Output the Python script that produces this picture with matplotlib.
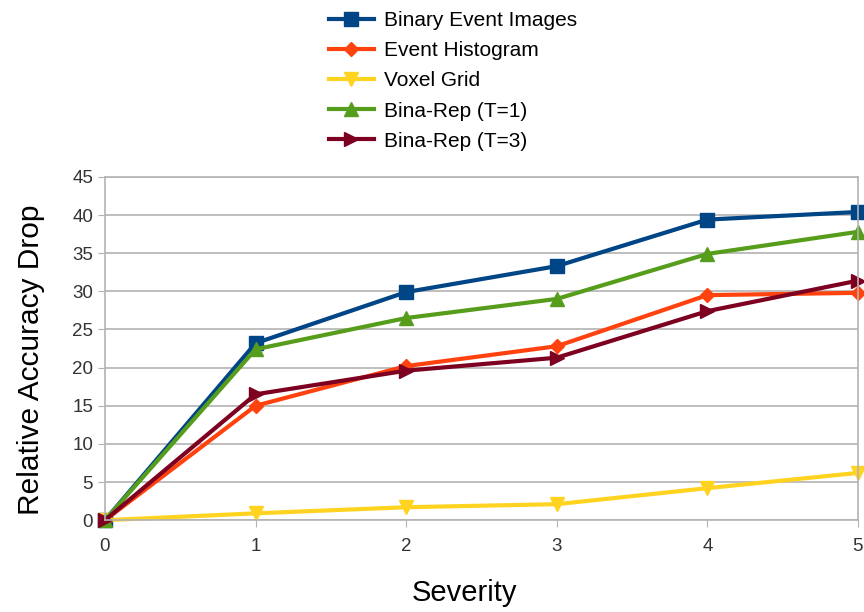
import numpy as np
import matplotlib.pyplot as plt

plt.rcParams['font.family'] = ['Liberation Sans', 'DejaVu Sans']

# Data
severity = [0, 1, 2, 3, 4, 5]
binary_event_images = [0, 23.2, 29.9, 33.3, 39.4, 40.4]
event_histogram = [0, 15.0, 20.2, 22.8, 29.5, 29.8]
voxel_grid = [0, 0.9, 1.7, 2.1, 4.2, 6.2]
bina_rep_t1 = [0, 22.4, 26.5, 29.0, 34.9, 37.8]
bina_rep_t3 = [0, 16.5, 19.6, 21.3, 27.4, 31.4]

fig = plt.figure(figsize=(8.64, 6.12), dpi=100)
ax = fig.add_axes([0.1215, 0.150, 0.8715, 0.561])

ax.plot(severity, binary_event_images, color='#004586', marker='s', markersize=10,
        linewidth=3, label='Binary Event Images')
ax.plot(severity, event_histogram, color='#ff420e', marker='D', markersize=7,
        linewidth=3, label='Event Histogram')
ax.plot(severity, voxel_grid, color='#ffd320', marker='v', markersize=10,
        linewidth=3, label='Voxel Grid')
ax.plot(severity, bina_rep_t1, color='#579d1c', marker='^', markersize=10,
        linewidth=3, label='Bina-Rep (T=1)')
ax.plot(severity, bina_rep_t3, color='#7e0021', marker='>', markersize=10,
        linewidth=3, label='Bina-Rep (T=3)')

ax.set_xlim(0, 5)
ax.set_ylim(0, 45)
ax.set_xticks(severity)
ax.set_yticks(np.arange(0, 46, 5))
ax.grid(axis='y', color='#b3b3b3', linewidth=1.2)
ax.set_axisbelow(True)
for s in ax.spines.values():
    s.set_color('#b3b3b3')
    s.set_linewidth(1.2)
ax.tick_params(colors='#b3b3b3', labelcolor='#333333', labelsize=13.5, length=5)
ax.tick_params(axis='x', pad=8)
for line in ax.get_lines():
    line.set_clip_on(False)

ax.set_xlabel('Severity', fontsize=21)
ax.xaxis.set_label_coords(0.478, -0.172)
ax.set_ylabel('Relative Accuracy Drop', fontsize=21.5)
ax.yaxis.set_label_coords(-0.08, 0.466)

fig.legend(loc='upper center', bbox_to_anchor=(0.524, 1.012), frameon=False,
           fontsize=15, handlelength=2.2, handletextpad=0.45, labelspacing=0.53)

fig.savefig('out.png', dpi=100)
